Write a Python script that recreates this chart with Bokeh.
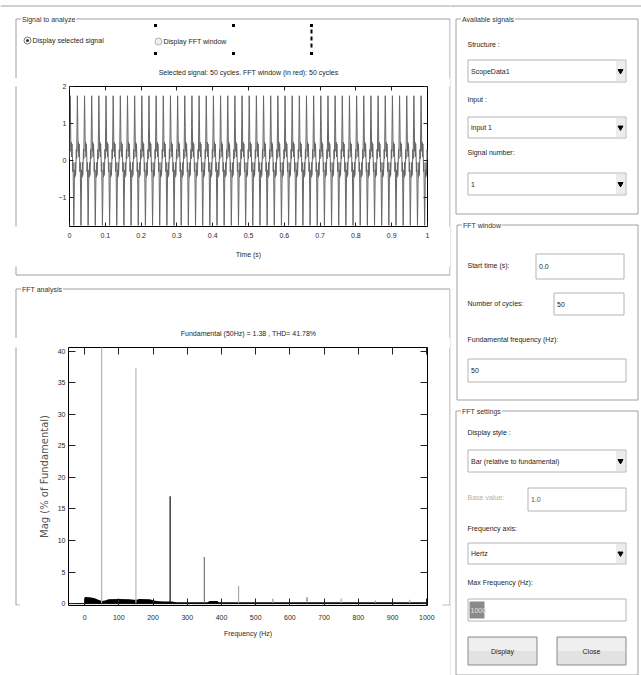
import numpy as np
from bokeh.plotting import figure
from bokeh.models import Range1d, LinearAxis, FixedTicker, ColumnDataSource
from bokeh.layouts import row, column
from bokeh.embed import file_html
from bokeh.resources import INLINE
from bokeh.core.properties import value

FONT = "Liberation Sans"
FS = "7px"

# ---------------- data ----------------
n_cycles = 50
fundamental_hz = 50
fund_mag = 1.38
thd_pct = 41.78

# one period of the analysed signal (20 samples per 20 ms cycle)
one_cycle = [0.05, 0.9, 1.75, 1.1, 0.25, 0.5, 0.1, 0.45, 0.2, -0.3,
             -0.05, -0.9, -1.75, -1.1, -0.25, -0.45, -0.05, -0.4, -0.15, 0.3]
time_ticks = [0.0, 0.1, 0.2, 0.3, 0.4, 0.5, 0.6, 0.7, 0.8, 0.9, 1.0]
time_tick_labels = ["0", "0.1", "0.2", "0.3", "0.4", "0.5", "0.6", "0.7", "0.8", "0.9", "1"]
time_yticks = [-1, 0, 1, 2]

# harmonic bars (% of fundamental)
harm_freq = [50, 150, 250, 350, 450, 550, 650, 750, 850, 950]
harm_mag = [100.0, 37.3, 17.0, 7.4, 2.8, 0.8, 1.0, 0.8, 0.5, 0.6]
# low interharmonic floor
floor_freq = [0, 15, 30, 40, 50, 60, 70, 100, 130, 145, 152, 160, 190, 200, 210,
              230, 255, 262, 270, 360, 365, 388, 392, 400, 1000]
floor_mag = [1.05, 1.0, 0.85, 0.6, 0.4, 0.5, 0.7, 0.75, 0.7, 0.6, 0.6, 0.72, 0.7, 0.55, 0.4,
             0.35, 0.35, 0.25, 0.2, 0.2, 0.4, 0.4, 0.2, 0.2, 0.2]
fft_xticks = [0, 100, 200, 300, 400, 500, 600, 700, 800, 900, 1000]
fft_yticks = [0, 5, 10, 15, 20, 25, 30, 35, 40]

# styles (kept apart from data)
harm_colors = ["#b0b0b0", "#b8b8b8", "#111111", "#777777", "#aaaaaa",
               "#999999", "#777777", "#aaaaaa", "#999999", "#aaaaaa"]

# ---------------- GUI decoration (window pixel coordinates) ----------------
Q = dict(l=[], r=[], t=[], b=[], fill=[], line=[])
T = dict(x=[], y=[], text=[], color=[], size=[], align=[], bg=[])
ML = dict(xs=[], ys=[])
TRI = dict(x=[], y=[])


def quad(x0, y0, x1, y1, fill, line):
    Q["l"].append(x0); Q["r"].append(x1); Q["t"].append(y0); Q["b"].append(y1)
    Q["fill"].append(fill); Q["line"].append(line)


def label(x, y, s, color="#1e1e1e", size=FS, align="left", bg=None):
    T["x"].append(x); T["y"].append(y); T["text"].append(s)
    T["color"].append(color); T["size"].append(size); T["align"].append(align)
    T["bg"].append(bg)


def panel(x0, y0, x1, y1, title):
    ML["xs"].append([x0, x0, x1, x1, x0])
    ML["ys"].append([y1, y0, y0, y1, y1])
    label(x0 + 5, y0, title, color="#333333", bg="white")


def textbox(x0, y0, x1, y1, s="", color="#1e1e1e"):
    quad(x0, y0, x1, y1, "white", "#b4b4b4")
    if s:
        label(x0 + 3, (y0 + y1) / 2, s, color)


def dropdown(x0, y0, x1, y1, s):
    quad(x0, y0, x1, y1, "white", "#b4b4b4")
    quad(x1 - 10, y0 + 1, x1 - 1, y1 - 1, "#ececec", None)
    TRI["x"].append(x1 - 5.5); TRI["y"].append((y0 + y1) / 2)
    label(x0 + 3, (y0 + y1) / 2, s)


def button(x0, y0, x1, y1, s):
    quad(x0, y0, x1, y1, "#e2e2e2", "#8c8c8c")
    quad(x0 + 1, y0 + 1, x1 - 1, (y0 + y1) / 2, "#efefef", None)
    label((x0 + x1) / 2, (y0 + y1) / 2, s, align="center")


# window top rule
ML["xs"].append([0, 641]); ML["ys"].append([5.5, 5.5])

# panels
panel(15.5, 18.5, 449.5, 274.5, "Signal to analyze")
panel(15.5, 288.5, 449.5, 674.5, "FFT analysis")
panel(455.5, 18.5, 637.5, 213.5, "Available signals")
panel(456.5, 224.5, 637.5, 399.5, "FFT window")
panel(455.5, 410.5, 637.5, 674.5, "FFT settings")

# signal to analyze header
label(32, 40, "Display selected signal")
label(163, 41, "Display FFT window")
label(248, 72, "Selected signal: %d cycles. FFT window (in red): %d cycles" % (n_cycles, n_cycles),
      align="center")
label(248, 333, "Fundamental (%dHz) = %.2f , THD= %.2f%%" % (fundamental_hz, fund_mag, thd_pct),
      align="center")

# available signals
label(467, 44, "Structure :")
dropdown(467.5, 59.5, 625.5, 81.5, "ScopeData1")
label(467, 99, "Input :")
dropdown(467.5, 116.5, 625.5, 137.5, "input 1")
label(467, 152, "Signal number:")
dropdown(467.5, 172.5, 625.5, 194.5, "1")

# FFT window
label(467, 265, "Start time (s):")
textbox(535.5, 253.5, 623.5, 278.5, "0.0")
label(467, 303, "Number of cycles:")
textbox(553.5, 292.5, 623.5, 314.5, "%d" % n_cycles)
label(467, 339, "Fundamental frequency (Hz):")
textbox(467.5, 358.5, 625.5, 381.5, "%d" % fundamental_hz)

# FFT settings
label(467, 432, "Display style :")
dropdown(467.5, 449.5, 625.5, 471.5, "Bar (relative to fundamental)")
label(467, 497, "Base value:", color="#b0b0b0")
textbox(527.5, 487.5, 625.5, 510.5, "1.0", color="#555555")
label(467, 528, "Frequency axis:")
dropdown(467.5, 542.5, 625.5, 563.5, "Hertz")
label(467, 582, "Max Frequency (Hz):")
textbox(467.5, 598.5, 625.5, 620.5)
quad(469, 601, 484, 618, "#8a8a8a", None)
label(470, 609.5, "%d" % fft_xticks[-1], color="#e0e0e0")
button(467.5, 636.5, 536.5, 664.5, "Display")
button(556.5, 636.5, 625.5, 664.5, "Close")

q_src = ColumnDataSource(Q)
ml_src = ColumnDataSource(ML)
tri_src = ColumnDataSource(TRI)


def gui_fig(x0, y0, w, h):
    p = figure(width=w, height=h, x_range=Range1d(x0, x0 + w), y_range=Range1d(y0 + h, y0),
               min_border=0, toolbar_location=None, output_backend="svg",
               x_axis_location=None, y_axis_location=None, outline_line_color=None,
               background_fill_color="white", border_fill_color="white")
    p.xgrid.visible = False
    p.ygrid.visible = False
    p.multi_line(xs="xs", ys="ys", source=ml_src, line_color="#a0a0a0", line_width=1)
    p.quad(left="l", right="r", top="t", bottom="b", fill_color="fill", line_color="line",
           source=q_src)
    p.scatter(x="x", y="y", source=tri_src, marker="inverted_triangle", size=5,
              fill_color="black", line_color="black")
    # only the texts whose anchor lies inside this piece of the window
    keep = [i for i in range(len(T["x"]))
            if x0 <= T["x"][i] < x0 + w and y0 <= T["y"][i] < y0 + h]
    if keep:
        for with_bg in (True, False):
            idx = [i for i in keep if (T["bg"][i] is not None) == with_bg]
            if not idx:
                continue
            src = ColumnDataSource({k: [T[k][i] for i in idx]
                                    for k in ("x", "y", "text", "color", "size", "align")})
            kw = dict(background_fill_color="white", padding=1) if with_bg else {}
            p.text(x="x", y="y", text="text", source=src, text_font=value(FONT),
                   text_font_size="size", text_color="color", text_align="align",
                   text_baseline="middle", **kw)
    # radio buttons
    p.scatter(x=[27, 158], y=[40, 41], marker="circle", size=7,
              fill_color=["white", "#f0f0f0"], line_color=["#777777", "#b0b0b0"])
    p.scatter(x=[27], y=[40], marker="circle", size=3, fill_color="#333333", line_color=None)
    # selection handles
    p.scatter(x=[155, 233, 155, 233, 311, 311], y=[25, 25, 53, 53, 25, 53], marker="square",
              size=3, fill_color="black", line_color=None)
    p.segment(x0=[311], y0=[29], x1=[311], y1=[49], line_color="black", line_width=2,
              line_dash="4 3")
    return p


def style_axes(p, xticks, yticks, xlabels=None, tick_len=4):
    p.xgrid.visible = False
    p.ygrid.visible = False
    xax, yax = p.below[0], p.left[0]
    for ax in (xax, yax):
        ax.major_tick_in = tick_len
        ax.major_tick_out = 0
        ax.minor_tick_line_color = None
        ax.axis_line_color = None
        ax.major_tick_line_color = "#222222"
        ax.major_label_text_font = FONT
        ax.major_label_text_font_size = FS
        ax.major_label_text_color = "#2a2a2a"
        ax.axis_label_text_font = FONT
        ax.axis_label_text_font_size = FS
        ax.axis_label_text_font_style = "normal"
        ax.axis_label_text_color = "#2a2a2a"
    xax.ticker = FixedTicker(ticks=xticks)
    yax.ticker = FixedTicker(ticks=yticks)
    if xlabels is not None:
        xax.major_label_overrides = dict(zip(xticks, xlabels))
    yax.major_label_standoff = 3
    # mirrored ticks on the top and right (box on)
    for loc, ticks in (("above", xticks), ("right", yticks)):
        ax = LinearAxis(ticker=FixedTicker(ticks=ticks), major_tick_in=tick_len,
                        major_tick_out=0, minor_tick_line_color=None, axis_line_color=None,
                        major_tick_line_color="#222222", major_label_standoff=0,
                        major_label_text_font_size="1px",
                        major_label_overrides={t: "" for t in ticks})
        p.add_layout(ax, loc)
    return xax, yax


# ---------------- time-domain plot ----------------
n_per = len(one_cycle)
sig = np.append(np.tile(np.array(one_cycle), n_cycles), one_cycle[0])
t = np.arange(len(sig)) / (n_per * fundamental_hz)

tp = figure(width=422, height=188, x_range=Range1d(0, 1), y_range=Range1d(-1.78, 2),
            min_border_left=49, min_border_right=15, min_border_top=8, min_border_bottom=40,
            toolbar_location=None, output_backend="svg", outline_line_color="black",
            background_fill_color="white", border_fill_color="white")
tp.line(t, sig, line_color="#666666", line_width=1)
txax, tyax = style_axes(tp, time_ticks, time_yticks, time_tick_labels, tick_len=4)
txax.axis_label = "Time (s)"
txax.major_label_standoff = 6
txax.axis_label_standoff = 10

# ---------------- FFT plot ----------------
fp = figure(width=422, height=337, x_range=Range1d(-47, 1002), y_range=Range1d(-0.3, 40.6),
            min_border_left=48, min_border_right=15, min_border_top=9, min_border_bottom=70,
            toolbar_location=None, output_backend="svg", outline_line_color="black",
            background_fill_color="white", border_fill_color="white")
fp.varea(x=floor_freq, y1=[0] * len(floor_freq), y2=floor_mag, fill_color="black")
fp.segment(x0=harm_freq, y0=[0] * len(harm_freq), x1=harm_freq, y1=harm_mag,
           line_color=harm_colors, line_width=1.2)
fp.segment(x0=[-47], y0=[0], x1=[1002], y1=[0], line_color="black", line_width=1)
fxax, fyax = style_axes(fp, fft_xticks, fft_yticks, None, tick_len=7)
fxax.axis_label = "Frequency (Hz)"
fxax.major_label_standoff = 9
fxax.axis_label_standoff = 7
fyax.axis_label = "Mag (% of Fundamental)"
fyax.axis_label_text_font = "DejaVu Sans"
fyax.axis_label_text_font_size = "10px"
fyax.axis_label_text_color = "#555555"
fyax.axis_label_standoff = 5

# ---------------- layout ----------------
top_fig = gui_fig(0, 0, 450, 78)
ls2 = gui_fig(0, 78, 20, 188)
rs2 = gui_fig(442, 78, 8, 188)
mid_fig = gui_fig(0, 266, 450, 72)
ls4 = gui_fig(0, 338, 20, 337)
rs4 = gui_fig(442, 338, 8, 337)
right_fig = gui_fig(450, 0, 191, 675)

left_col = column(top_fig, row(ls2, tp, rs2, spacing=0), mid_fig,
                  row(ls4, fp, rs4, spacing=0), spacing=0)
layout = row(left_col, right_fig, spacing=0)

open("out.html", "w").write(file_html(layout, INLINE))
